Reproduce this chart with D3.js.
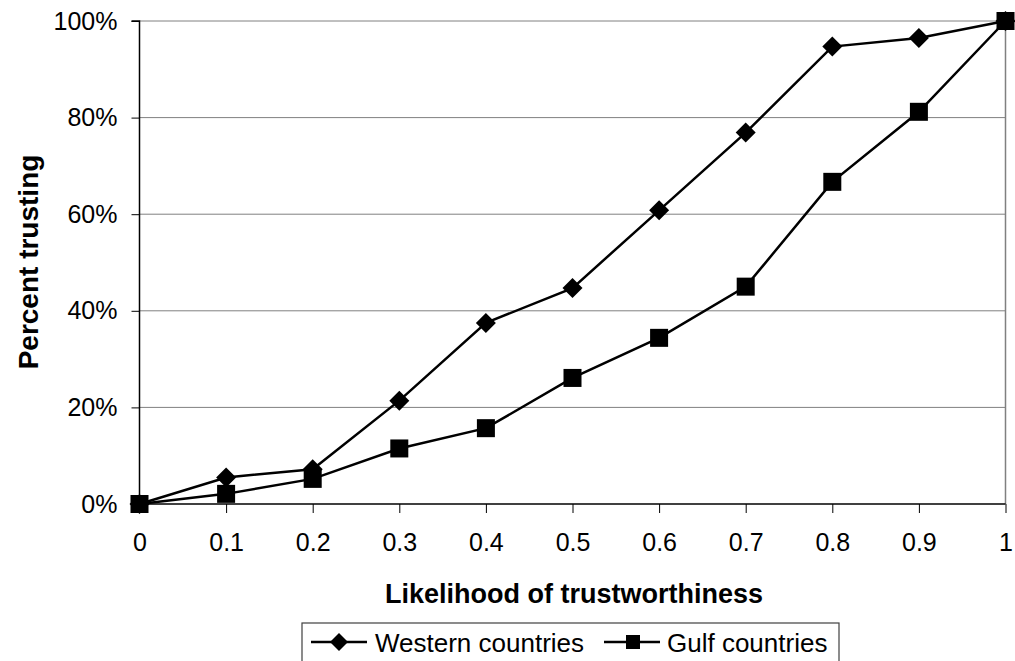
<!DOCTYPE html>
<html><head><meta charset="utf-8">
<script src="https://cdn.jsdelivr.net/npm/d3@7"></script>
<style>body{margin:0;background:#fff}svg{display:block;font-family:"Liberation Sans",Arial,sans-serif}</style>
</head><body>
<svg id="c" width="1015" height="661"></svg>
<script>
const xValues = [0, 0.1, 0.2, 0.3, 0.4, 0.5, 0.6, 0.7, 0.8, 0.9, 1];
const western = [0, 5.5, 7.2, 21.4, 37.5, 44.7, 60.8, 76.9, 94.7, 96.5, 100];
const gulf = [0, 2.1, 5.2, 11.5, 15.7, 26.1, 34.4, 45.0, 66.7, 81.2, 100];
const xTickLabels = ["0","0.1","0.2","0.3","0.4","0.5","0.6","0.7","0.8","0.9","1"];
const yTicks = [0, 20, 40, 60, 80, 100];
const seriesNames = ["Western countries", "Gulf countries"];

const svg = d3.select("#c");
const L = 139.5, R = 1005.5, T = 21, B = 504;
const x = d3.scaleLinear().domain([0, 1]).range([L, R]);
const y = d3.scaleLinear().domain([0, 100]).range([B, T]);

// gridlines
svg.append("g").selectAll("line").data(yTicks.filter(d => d > 0)).join("line")
  .attr("x1", L).attr("x2", R).attr("y1", d => y(d)).attr("y2", d => y(d))
  .attr("stroke", "#808080").attr("stroke-width", 1);
// right border
svg.append("line").attr("x1", R).attr("x2", R).attr("y1", T).attr("y2", B)
  .attr("stroke", "#808080").attr("stroke-width", 1.5);

// axes
const yAxis = d3.axisLeft(y).tickValues(yTicks).tickFormat(d => d + "%").tickSize(8).tickPadding(14);
const gy = svg.append("g").attr("transform", `translate(${L},0)`).call(yAxis);
const xAxis = d3.axisBottom(x).tickValues(xValues).tickFormat((d, i) => xTickLabels[i]).tickSize(9).tickPadding(20);
const gx = svg.append("g").attr("transform", `translate(0,${B})`).call(xAxis);
[gx, gy].forEach(g => {
  g.attr("font-size", 25).attr("font-family", "Liberation Sans, Arial, sans-serif");
  g.select(".domain").attr("stroke", "#000").attr("stroke-width", 1.5);
  g.selectAll(".tick line").attr("stroke", "#000").attr("stroke-width", 1);
  g.selectAll("text").attr("font-size", 25).attr("fill", "#000");
});
gy.select(".domain").attr("d", `M-8,${T}H0V${B}`);
gx.select(".domain").attr("d", `M${L},0H${R}`);

// axis titles
svg.append("text").attr("x", 574).attr("y", 603).attr("text-anchor", "middle")
  .attr("font-size", 27).attr("font-weight", "bold").text("Likelihood of trustworthiness");
svg.append("text").attr("transform", "translate(38,262) rotate(-90)").attr("text-anchor", "middle")
  .attr("font-size", 28).attr("font-weight", "bold").text("Percent trusting");

const line = d3.line().x((d, i) => x(xValues[i])).y(d => y(d));
const diamond = (g, cx, cy, r) => g.append("path")
  .attr("d", `M${cx},${cy-r}L${cx+r},${cy}L${cx},${cy+r}L${cx-r},${cy}Z`).attr("fill", "#000");
const square = (g, cx, cy, h) => g.append("rect")
  .attr("x", cx - h).attr("y", cy - h).attr("width", 2*h).attr("height", 2*h).attr("fill", "#000");

const gW = svg.append("g");
gW.append("path").datum(western).attr("d", line).attr("fill", "none").attr("stroke", "#000").attr("stroke-width", 2.5);
western.forEach((d, i) => diamond(gW, x(xValues[i]), y(d), 10));
const gG = svg.append("g");
gG.append("path").datum(gulf).attr("d", line).attr("fill", "none").attr("stroke", "#000").attr("stroke-width", 2.5);
gulf.forEach((d, i) => square(gG, x(xValues[i]), y(d), 9));

// legend
const lg = svg.append("g");
lg.append("rect").attr("x", 302).attr("y", 623).attr("width", 537).attr("height", 50)
  .attr("fill", "#fff").attr("stroke", "#404040").attr("stroke-width", 1.2);
const ly = 642;
lg.append("line").attr("x1", 311).attr("x2", 367).attr("y1", ly).attr("y2", ly).attr("stroke", "#000").attr("stroke-width", 2.5);
diamond(lg, 339, ly, 9);
lg.append("text").attr("x", 375).attr("y", 652).attr("font-size", 26).text(seriesNames[0]);
lg.append("line").attr("x1", 604).attr("x2", 660).attr("y1", ly).attr("y2", ly).attr("stroke", "#000").attr("stroke-width", 2.5);
square(lg, 633, ly, 7);
lg.append("text").attr("x", 667).attr("y", 652).attr("font-size", 26).text(seriesNames[1]);
</script>
</body></html>
